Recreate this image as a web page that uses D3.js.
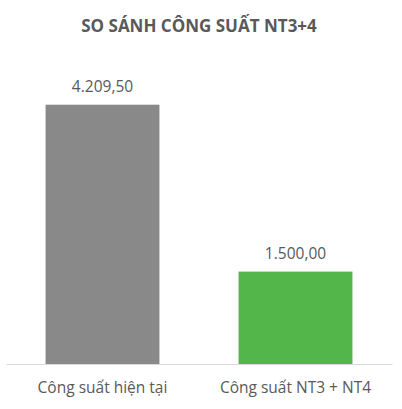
<!DOCTYPE html>
<html>
<head>
<meta charset="utf-8">
<script src="https://cdn.jsdelivr.net/npm/d3@7"></script>
<style>
  html, body { margin: 0; padding: 0; background: #fff; }
  #chart { width: 402px; height: 409px; }
  text { font-family: "Open Sans", "Noto Sans", sans-serif; }
</style>
</head>
<body>
<div id="chart"></div>
<script>
const categories = ["Công suất hiện tại", "Công suất NT3 + NT4"];
const values = [4209.5, 1500];
const barColors = ["#898989", "#52b64a"];
const title = "SO SÁNH CÔNG SUẤT NT3+4";

function drawColumnChart(selector) {
    const container = d3.select(selector);
    container.selectAll("*").remove();

    const width = 402;
    const height = 409;
    const margin = { top: 56, right: 10, bottom: 45, left: 6 };
    const chartWidth = width - margin.left - margin.right;
    const chartHeight = height - margin.top - margin.bottom;

    const svg = container.append("svg")
        .attr("width", width)
        .attr("height", height);

    svg.append("text")
        .attr("x", 199)
        .attr("y", 32)
        .attr("text-anchor", "middle")
        .style("font-size", "17px")
        .style("font-weight", "bold")
        .style("fill", "#595959")
        .text(title);

    const g = svg.append("g")
        .attr("transform", `translate(${margin.left},${margin.top})`);

    const x = d3.scaleBand()
        .range([0, chartWidth])
        .domain(categories)
        .paddingInner(0.41)
        .paddingOuter(0.205);

    const y = d3.scaleLinear()
        .range([chartHeight, 0])
        .domain([0, 5000]);

    g.selectAll(".bar")
        .data(values)
        .enter()
        .append("rect")
        .attr("x", (d, i) => x(categories[i]))
        .attr("width", x.bandwidth())
        .attr("y", d => y(d))
        .attr("height", d => chartHeight - y(d))
        .style("fill", (d, i) => barColors[i]);

    // axis line + category labels
    const xAxis = g.append("g")
        .attr("transform", `translate(0,${chartHeight})`)
        .call(d3.axisBottom(x).tickSize(0).tickPadding(18));
    xAxis.select(".domain").style("stroke", "#d9d9d9").style("stroke-width", 1.2);
    xAxis.selectAll("text")
        .style("font-size", "15.5px")
        .style("fill", "#595959")
        .style("font-family", "'Open Sans', sans-serif");

    // value labels
    const fmt = d3.formatLocale({ decimal: ",", thousands: ".", grouping: [3], currency: ["", ""] }).format(",.2f");
    g.selectAll(".value")
        .data(values)
        .enter()
        .append("text")
        .attr("x", (d, i) => x(categories[i]) + x.bandwidth() / 2)
        .attr("y", d => y(d) - 13)
        .attr("text-anchor", "middle")
        .style("font-size", "15.5px")
        .style("fill", "#595959")
        .text(d => fmt(d));
}

drawColumnChart("#chart");
</script>
</body>
</html>
